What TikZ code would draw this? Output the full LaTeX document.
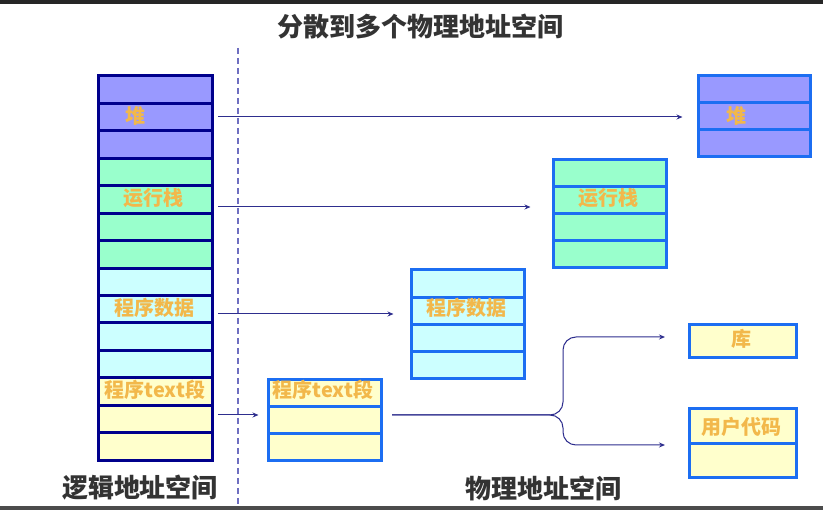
\documentclass[tikz,border=0pt]{standalone}
\usepackage{fontspec}
\setmainfont{Noto Sans CJK SC}
\usetikzlibrary{arrows.meta}
\definecolor{navy}{HTML}{00008C}
\definecolor{brightblue}{HTML}{1C6EF2}
\definecolor{cpurple}{HTML}{9999FF}
\definecolor{cgreen}{HTML}{99FFCC}
\definecolor{ccyan}{HTML}{CCFFFF}
\definecolor{cyellow}{HTML}{FFFFCC}
\definecolor{lbl}{HTML}{F2B84B}
\definecolor{arrowc}{HTML}{2E2E8E}
\definecolor{dashc}{HTML}{6E6EC0}
\definecolor{titlec}{HTML}{333333}
\begin{document}
\begin{tikzpicture}[x=1pt,y=-1pt,
  cell/.style={line width=3pt, inner sep=0pt, anchor=north west, minimum width=#1},
  lcell/.style={cell=114pt, draw=navy, minimum height=27.43pt},
  rcell/.style={cell=113pt, draw=brightblue},
  lbltext/.style={text=lbl, font=\bfseries\fontsize{20}{20}\selectfont, inner sep=0pt},
  bigtext/.style={text=titlec, font=\bfseries\fontsize{26}{26}\selectfont, inner sep=0pt},
  link/.style={draw=arrowc, line width=1pt, -{Stealth[length=6pt,width=5pt]}},
  divider/.style={draw=dashc, line width=1.2pt, dash pattern=on 6pt off 4pt}
]
\useasboundingbox (0,0) rectangle (823,510);
\fill[white] (0,0) rectangle (823,510);
\fill[black!85] (0,0) rectangle (823,4);
\fill[black!70] (0,506) rectangle (823,510);

% title and captions
\node[bigtext] (title) at (420,27) {分散到多个物理地址空间};
\node[bigtext] (lcap) at (140,488) {逻辑地址空间};
\node[bigtext] (pcap) at (543,488) {物理地址空间};

% divider
\coordinate (dtop) at (238,48);
\coordinate (dbot) at (238,506);
\draw[divider] (dtop) -- (dbot);

% logical address space
\foreach \i/\c in {1/cpurple,2/cpurple,3/cpurple,4/cgreen,5/cgreen,6/cgreen,7/cgreen,
                   8/ccyan,9/ccyan,10/ccyan,11/ccyan,12/cyellow,13/cyellow,14/cyellow}{
  \node[lcell, fill=\c] (L\i) at (96.5,{74.5+(\i-1)*27.43}) {};
}
\node[lbltext] (lheap) at (135,116) {堆};
\node[lbltext] (lstack) at (153,198) {运行栈};
\node[lbltext] (ldata) at (154,308) {程序数据};
\node[lbltext] (ltext) at (155,390) {程序text段};

% heap
\foreach \i in {1,2,3}{
  \node[rcell, fill=cpurple, minimum width=112pt, minimum height=27pt] (H\i) at (696.5,{74.5+(\i-1)*27}) {};
}
\node[lbltext] (rheap) at (736,116) {堆};

% stack
\foreach \i in {1,2,3,4}{
  \node[rcell, fill=cgreen, minimum height=27pt] (S\i) at (551.5,{158.5+(\i-1)*27}) {};
}
\node[lbltext] (rstack) at (608,198) {运行栈};

% data
\foreach \i in {1,2,3,4}{
  \node[rcell, fill=ccyan, minimum height=27.25pt] (D\i) at (409.5,{268.5+(\i-1)*27.25}) {};
}
\node[lbltext] (rdata) at (466,308) {程序数据};

% text
\foreach \i in {1,2,3}{
  \node[rcell, fill=cyellow, minimum height=27pt] (T\i) at (266.5,{378.5+(\i-1)*27}) {};
}
\node[lbltext] (rtext) at (323,390) {程序text段};

% library
\node[rcell, fill=cyellow, minimum width=107pt, minimum height=33pt] (B1) at (687.5,323.5) {};
\node[lbltext] (rlib) at (741,339) {库};

% user code
\foreach \i in {1,2}{
  \node[rcell, fill=cyellow, minimum width=107pt, minimum height=34.5pt] (U\i) at (687.5,{407.5+(\i-1)*34.5}) {};
}
\node[lbltext] (ruser) at (741,427) {用户代码};

% connectors
\coordinate (aheap) at (218,117);
\coordinate (astack) at (218,207);
\coordinate (adata) at (218,314);
\coordinate (atext) at (218,415);
\draw[link, shorten >=14pt] (aheap) -- (aheap -| H2.west);
\draw[link, shorten >=21pt] (astack) -- (astack -| S2.west);
\draw[link, shorten >=16pt] (adata) -- (adata -| D2.west);
\draw[link, shorten >=8pt] (atext) -- (atext -| T2.west);

\coordinate (bstart) at (392,415);
\coordinate (bjoin) at (563,415);
\coordinate (blibend) at (665,337);
\coordinate (buserend) at (665,445);
\draw[link, rounded corners=13pt] (bstart) -- (bjoin) -- (bjoin |- blibend) -- (blibend);
\draw[link, rounded corners=13pt] (bstart) -- (bjoin) -- (bjoin |- buserend) -- (buserend);
\end{tikzpicture}
\end{document}
